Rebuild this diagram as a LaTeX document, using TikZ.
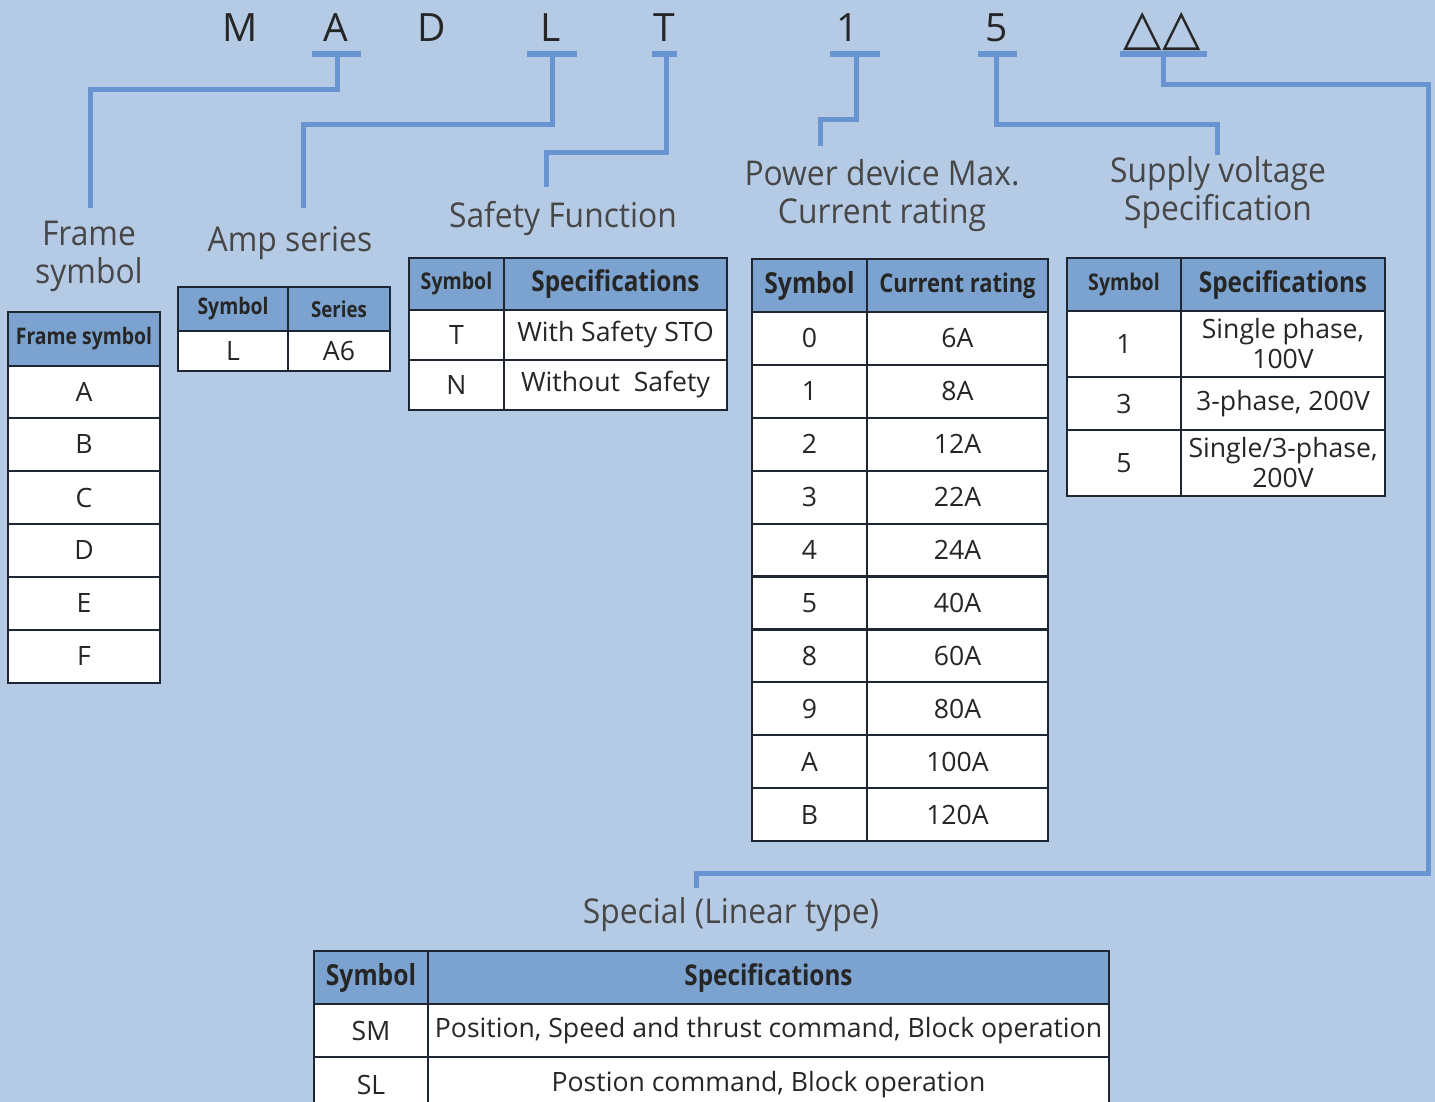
\documentclass[tikz,border=0pt]{standalone}
\usepackage{fontspec}
\setmainfont{Open Sans}
\newfontfamily\symfont{DejaVu Sans}
\newfontfamily\titlefont[FakeStretch=0.93]{Open Sans}
\newfontfamily\hdfont[FakeStretch=0.85]{Open Sans}
\definecolor{bgc}{RGB}{181,203,229}
\definecolor{hdc}{RGB}{124,163,208}
\definecolor{lnc}{RGB}{104,148,210}
\definecolor{bdc}{RGB}{30,38,52}
\definecolor{txc}{RGB}{38,38,38}
\newcommand\hfnt[1]{\hdfont\bfseries\fontsize{#1}{#1}\selectfont}
\newcommand\tcell[7]{\path[#6] (#2,#3) rectangle (#4,#5);
  \node[celltext] (#1) at ({(#2+#4)/2},{(#3+#5)/2}) {#7};}
\begin{document}
\begin{tikzpicture}[x=0.5pt,y=-0.5pt,
  hcell/.style={fill=hdc,draw=bdc,line width=1.1pt},
  bcell/.style={fill=white,draw=bdc,line width=1.1pt},
  celltext/.style={text=txc,align=center,inner sep=0pt,font=\fontsize{13.3}{15}\selectfont},
  codeletter/.style={text=txc,anchor=base,inner sep=0pt,font=\fontsize{19.5}{20}\selectfont},
  titletext/.style={text=txc!85,align=center,inner sep=0pt,font=\titlefont\fontsize{17.1}{19}\selectfont},
  bar/.style={draw=lnc,line width=3pt},
  conn/.style={draw=lnc,line width=2.5pt}]
\useasboundingbox (0,0) rectangle (1435,1102);
\clip (0,0) rectangle (1435,1102);
\fill[bgc] (0,0) rectangle (1435,1102);

% code letters
\node[codeletter] (cM) at (240,42) {M};
\node[codeletter] (cA) at (336,42) {A};
\node[codeletter] (cD) at (432,42) {D};
\node[codeletter] (cL) at (551,42) {L};
\node[codeletter] (cT) at (664,42) {T};
\node[codeletter] (c1) at (848,42) {1};
\node[codeletter] (c5) at (997,42) {5};
\node[text=txc,anchor=base,inner sep=0pt,font=\symfont\fontsize{25}{25}\selectfont] (cTri) at (1162,45) {△△};

% bars under letters
\draw[bar] (312,54) -- (361,54);
\draw[bar] (527,54) -- (577,54);
\draw[bar] (652,54) -- (677,54);
\draw[bar] (830,54) -- (880,54);
\draw[bar] (978,54) -- (1017,54);
\draw[bar] (1120,54) -- (1207,54);
\coordinate (bA) at (337,54);
\coordinate (bL) at (552,54);
\coordinate (bT) at (666,54);
\coordinate (b1) at (856,54);
\coordinate (b5) at (996,54);
\coordinate (bS) at (1163,54);

% titles
\node[titletext] (tFrame) at (89,256) {Frame\\symbol};
\node[titletext] (tAmp) at (290,243) {Amp series};
\node[titletext] (tSafe) at (563,219) {Safety Function};
\node[titletext] (tPow) at (882,196) {Power device Max.\\Current rating};
\node[titletext] (tSup) at (1218,193) {Supply voltage\\Specification};
\node[titletext] (tSpec) at (731,915) {Special (Linear type)};

\coordinate (eFrame) at (90,208);
\coordinate (eAmp) at (303,208);
\coordinate (eSafe) at (546,187);
\coordinate (ePow) at (820,146);
\coordinate (eSup) at (1217,155);
\coordinate (eSpec) at (696,888);

% connectors
\draw[conn] (bA) -- (337,90) -| (eFrame);
\draw[conn] (bL) -- (552,125) -| (eAmp);
\draw[conn] (bT) -- (666,153) -| (eSafe);
\draw[conn] (b1) -- (856,120) -| (ePow);
\draw[conn] (b5) -- (996,125) -| (eSup);
\draw[conn] (bS) -- (1163,85) -- (1428,85) -- (1428,873) -| (eSpec);

% Frame symbol table
\tcell{fH}{8}{312}{160}{366}{hcell}{\hfnt{11.4}Frame symbol}
\tcell{fA}{8}{366}{160}{418}{bcell}{A}
\tcell{fB}{8}{418}{160}{471}{bcell}{B}
\tcell{fC}{8}{471}{160}{524}{bcell}{C}
\tcell{fD}{8}{524}{160}{577}{bcell}{D}
\tcell{fE}{8}{577}{160}{630}{bcell}{E}
\tcell{fF}{8}{630}{160}{683}{bcell}{F}

% Amp series table
\tcell{aH1}{178}{287}{288}{331}{hcell}{\hfnt{11.4}Symbol}
\tcell{aH2}{288}{287}{390}{331}{hcell}{\hfnt{11}Series}
\tcell{aS}{178}{331}{288}{371}{bcell}{L}
\tcell{aV}{288}{331}{390}{371}{bcell}{A6}

% Safety table
\tcell{sH1}{409}{258}{504}{310}{hcell}{\hfnt{11.5}Symbol}
\tcell{sH2}{504}{258}{727}{310}{hcell}{\hfnt{14.3}Specifications}
\tcell{sT}{409}{310}{504}{360}{bcell}{T}
\tcell{sTv}{504}{310}{727}{360}{bcell}{With Safety STO}
\tcell{sN}{409}{360}{504}{410}{bcell}{N}
\tcell{sNv}{504}{360}{727}{410}{bcell}{Without\ \ Safety}

% Current rating table
\tcell{cH1}{752}{259}{867}{312}{hcell}{\hfnt{14.5}Symbol}
\tcell{cH2}{867}{259}{1048}{312}{hcell}{\hfnt{12.9}Current rating}
\foreach \s/\v [count=\i from 0] in {0/6A,1/8A,2/12A,3/22A,4/24A,5/40A,8/60A,9/80A,A/100A,B/120A}{
  \tcell{cS\i}{752}{312+\i*52.9}{867}{312+\i*52.9+52.9}{bcell}{\s}
  \tcell{cV\i}{867}{312+\i*52.9}{1048}{312+\i*52.9+52.9}{bcell}{\v}
}

% Supply voltage table
\tcell{vH1}{1067}{258}{1181}{311}{hcell}{\hfnt{11.5}Symbol}
\tcell{vH2}{1181}{258}{1385}{311}{hcell}{\hfnt{14.3}Specifications}
\tcell{v1}{1067}{311}{1181}{377}{bcell}{1}
\tcell{v1v}{1181}{311}{1385}{377}{bcell}{Single phase,\\100V}
\tcell{v3}{1067}{377}{1181}{430}{bcell}{3}
\tcell{v3v}{1181}{377}{1385}{430}{bcell}{3-phase, 200V}
\tcell{v5}{1067}{430}{1181}{496}{bcell}{5}
\tcell{v5v}{1181}{430}{1385}{496}{bcell}{Single/3-phase,\\200V}

% Special table
\tcell{xH1}{314}{951}{428}{1004}{hcell}{\hfnt{14.5}Symbol}
\tcell{xH2}{428}{951}{1109}{1004}{hcell}{\hfnt{14.3}Specifications}
\tcell{xSM}{314}{1004}{428}{1057}{bcell}{SM}
\tcell{xSMv}{428}{1004}{1109}{1057}{bcell}{Position, Speed and thrust command, Block operation}
\tcell{xSL}{314}{1057}{428}{1112}{bcell}{SL}
\tcell{xSLv}{428}{1057}{1109}{1112}{bcell}{Postion command, Block operation}
\end{tikzpicture}
\end{document}
